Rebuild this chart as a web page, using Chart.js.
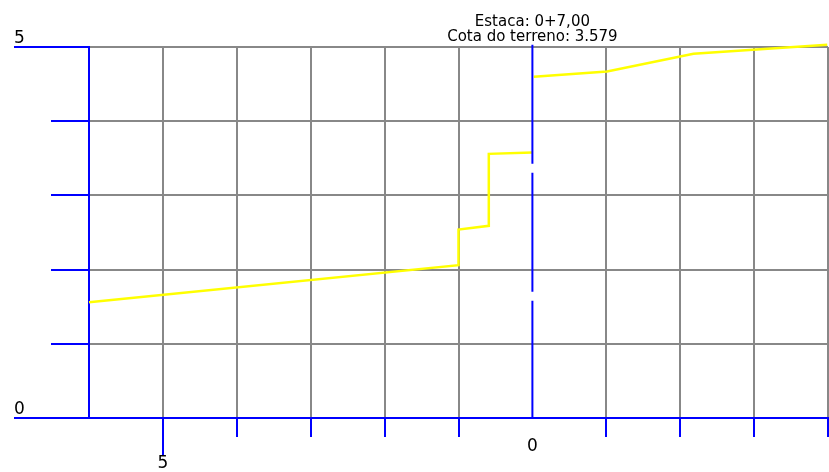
<!DOCTYPE html>
<html>
<head>
<meta charset="utf-8">
<script src="https://cdn.jsdelivr.net/npm/chart.js@4/dist/chart.umd.min.js"></script>
<style>
  html, body { margin: 0; padding: 0; background: #fff; }
  #wrap { position: relative; width: 829px; height: 472px; }
</style>
</head>
<body>
<div id="wrap"><canvas id="profileChart"></canvas></div>
<script>
// terrain, left of the station (offset, elevation)
const leftOffsets = [6, 1, 1, 0.59, 0.59, 0];
const leftElevations = [1.56, 2.06, 2.54, 2.59, 3.56, 3.579];

// terrain, right of the station
const rightOffsets = [-0.02, -1.01, -2.18, -3.99];
const rightElevations = [4.60, 4.67, 4.91, 5.03];

// station axis
const stationOffsets = [0, 0];
const stationElevations = [5.03, 0];

const xLabelled = [5, 0];
const yLabelled = [0, 5];
const titleLines = ["Estaca: 0+7,00", "Cota do terreno: 3.579"];

const BLUE = "#0000ff";
const GRAY = "#888888";
const YELLOW = "#ffff00";
const FONT = "'DejaVu Sans', sans-serif";

const toPoints = (xs, ys) => xs.map((x, i) => ({ x: x, y: ys[i] }));

const extraMarks = {
  id: "extraMarks",
  afterDraw(chart) {
    const { ctx, chartArea, scales } = chart;
    const x = scales.x;
    const y = scales.y;
    ctx.save();
    ctx.strokeStyle = BLUE;
    ctx.lineWidth = 2;
    ctx.beginPath();
    // long ticks at the labelled elevations
    yLabelled.forEach((v) => {
      const py = Math.round(y.getPixelForValue(v));
      ctx.moveTo(y.left, py);
      ctx.lineTo(chartArea.left - 37, py);
    });
    // long ticks at the labelled offsets (not at the station)
    xLabelled.forEach((v) => {
      if (v === 0) return;
      const px = Math.round(x.getPixelForValue(v));
      ctx.moveTo(px, chartArea.bottom + 18);
      ctx.lineTo(px, chartArea.bottom + 37);
    });
    ctx.stroke();

    ctx.fillStyle = "#000";
    ctx.font = "15px " + FONT;
    ctx.textAlign = "center";
    ctx.textBaseline = "alphabetic";
    const cx = x.getPixelForValue(0);
    ctx.fillText(titleLines[0], cx, 26);
    ctx.fillText(titleLines[1], cx, 41);
    ctx.restore();
  },
};

new Chart(document.getElementById("profileChart"), {
  type: "scatter",
  data: {
    datasets: [
      {
        data: toPoints(stationOffsets, stationElevations),
        showLine: true,
        borderColor: BLUE,
        borderWidth: 2,
        borderDash: [119, 9],
        pointRadius: 0,
        clip: false,
        order: 0,
      },
      {
        data: toPoints(leftOffsets, leftElevations),
        showLine: true,
        borderColor: YELLOW,
        borderWidth: 2.5,
        pointRadius: 0,
        tension: 0,
        clip: false,
        order: 1,
      },
      {
        data: toPoints(rightOffsets, rightElevations),
        showLine: true,
        borderColor: YELLOW,
        borderWidth: 2.5,
        pointRadius: 0,
        tension: 0,
        clip: false,
        order: 1,
      },
    ],
  },
  options: {
    responsive: true,
    maintainAspectRatio: false,
    animation: false,
    events: [],
    layout: {
      padding: { left: 14, right: 1, top: 47, bottom: 0 },
    },
    scales: {
      x: {
        type: "linear",
        reverse: true,
        min: -4,
        max: 6,
        afterFit: (scale) => {
          scale.height = 54;
        },
        grid: {
          color: (c) => (c.tick.value === 6 ? BLUE : c.tick.value === 0 ? "rgba(0,0,0,0)" : GRAY),
          tickColor: (c) => (c.tick.value === 6 || c.tick.value === 0 ? "rgba(0,0,0,0)" : BLUE),
          lineWidth: 2,
          tickWidth: 2,
          tickLength: 19,
        },
        border: {
          display: true,
          color: BLUE,
          width: 2,
        },
        ticks: {
          stepSize: 1,
          autoSkip: false,
          maxRotation: 0,
          padding: 1,
          color: "#000",
          font: { family: FONT, size: 17, lineHeight: 1 },
          callback: (v) => {
            if (!xLabelled.includes(v)) return "";
            return v === 0 ? String(v) : ["", String(v)];
          },
        },
      },
      y: {
        type: "linear",
        min: 0,
        max: 5,
        afterFit: (scale) => {
          scale.width = 75;
        },
        grid: {
          color: (c) => (c.tick.value === 0 ? BLUE : GRAY),
          tickColor: BLUE,
          lineWidth: 2,
          tickWidth: 2,
          tickLength: 38,
        },
        border: {
          display: true,
          color: BLUE,
          width: 2,
        },
        ticks: {
          stepSize: 1,
          crossAlign: "far",
          color: "#000",
          font: { family: FONT, size: 17, lineHeight: 1 },
          callback: (v) => (yLabelled.includes(v) ? [String(v), ""] : ""),
        },
      },
    },
    plugins: {
      legend: { display: false },
      tooltip: { enabled: false },
    },
  },
  plugins: [extraMarks],
});
</script>
</body>
</html>
